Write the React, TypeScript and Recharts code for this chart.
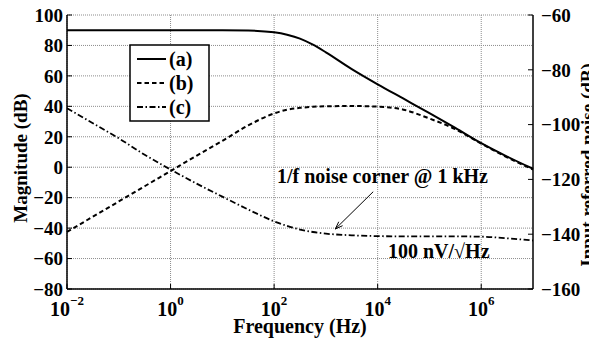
import { LineChart, Line, XAxis, YAxis, ReferenceLine, CartesianGrid, Customized } from "recharts";

const freqHz = [0.01, 0.0316, 0.1, 0.316, 1, 3.16, 10, 31.6, 100, 178, 316, 562, 1000, 3162, 10000, 31623, 100000, 316228, 1000000, 3162278, 10000000];
const gainA = [90, 90, 90, 90, 90, 90, 90, 89.8, 88.6, 87, 84.5, 80.5, 75.5, 64.5, 54.5, 45, 35.5, 25.8, 15.8, 7, -1];
const gainB = [-42.5, -32.5, -22.5, -12.5, -2.5, 7.5, 17.3, 27.5, 35.3, 37.8, 39, 39.7, 40, 40.2, 39.8, 37.8, 32, 25, 15.5, 6.5, -1.5];
const noiseC = [-94, -99.5, -105, -111, -116.4, -121.5, -126.3, -131, -135.3, -137, -138.3, -139.2, -139.8, -140.4, -140.7, -140.8, -140.8, -140.8, -140.9, -141.5, -142.3];

const freqTicks = [0.01, 1, 100, 10000, 1000000];
const magTicks = [-80, -60, -40, -20, 0, 20, 40, 60, 80, 100];
const noiseTicks = [-160, -140, -120, -100, -80, -60];

const FONT = "'Liberation Serif', 'Times New Roman', serif";

const data = freqHz.map((f, i) => ({ f, a: gainA[i], b: gainB[i], c: noiseC[i] }));

const minus = (v: number) => (v < 0 ? "\u2212" + Math.abs(v) : String(v));

function FreqTick(props: any) {
  const { x, y, payload } = props;
  const exp = Math.round(Math.log10(payload.value));
  return (
    <text x={x} y={y + 27} textAnchor="middle" fontFamily={FONT} fontWeight="bold" fontSize={20} fill="#000">
      <tspan>10</tspan>
      <tspan dy={-11} fontSize={13}>{minus(exp)}</tspan>
    </text>
  );
}

const EmptyTick = () => <g />;

function Arrow(props: any) {
  const { x1, y1, x2, y2 } = props;
  const ang = Math.atan2(y2 - y1, x2 - x1);
  const len = 8;
  const w = 0.35;
  const p1 = [x2 - len * Math.cos(ang - w), y2 - len * Math.sin(ang - w)];
  const p2 = [x2 - len * Math.cos(ang + w), y2 - len * Math.sin(ang + w)];
  return (
    <g>
      <line x1={x1} y1={y1} x2={x2} y2={y2} stroke="#000" strokeWidth={1} />
      <polyline points={`${p1[0]},${p1[1]} ${x2},${y2} ${p2[0]},${p2[1]}`} fill="none" stroke="#000" strokeWidth={1} />
    </g>
  );
}

const legendItems = [
  { name: "(a)", dash: undefined },
  { name: "(b)", dash: "4.5 3" },
  { name: "(c)", dash: "6 2.5 1.5 2.5" },
];

function Overlay() {
  const txt = { fontFamily: FONT, fontWeight: "bold" as const, fill: "#000" };
  return (
    <g>
      <text {...txt} fontSize={19} transform="translate(19,150) rotate(-90)" textAnchor="middle">Magnitude (dB)</text>
      <text {...txt} fontSize={19} transform="translate(586,157) rotate(-90)" textAnchor="middle">Input referred noise (dB)</text>
      <text {...txt} fontSize={20} x={292} y={325} textAnchor="middle">Frequency (Hz)</text>
      <text {...txt} fontSize={20} x={269} y={175}>1/f noise corner @ 1 kHz</text>
      <text {...txt} fontSize={20} x={380} y={250}>100 nV/√Hz</text>
      <rect x={122} y={37} width={79} height={76} fill="#fff" stroke="#000" strokeWidth={1.5} />
      {legendItems.map((it, i) => (
        <g key={it.name}>
          <line x1={129} x2={158} y1={51 + i * 24} y2={51 + i * 24} stroke="#000" strokeWidth={2} strokeDasharray={it.dash} />
          <text {...txt} fontSize={20} x={161} y={57.5 + i * 24}>{it.name}</text>
        </g>
      ))}
    </g>
  );
}

export default function App() {
  const tickStyle = { fontFamily: FONT, fontWeight: "bold", fontSize: 19, fill: "#000" };
  const axisLine = { stroke: "#000", strokeWidth: 1.5 };
  return (
    <LineChart width={589} height={334} data={data} margin={{ top: 7, right: 19, bottom: 23, left: 14 }}>
      <CartesianGrid xAxisId="x" yAxisId="left" stroke="#8c8c8c" strokeWidth={1} strokeDasharray="1 1"
        horizontalValues={magTicks} verticalValues={freqTicks} />
      <XAxis xAxisId="x" dataKey="f" type="number" scale="log" domain={[0.01, 10000000]} ticks={freqTicks} interval={0}
        height={30} tickSize={-5} tickMargin={5} tick={<FreqTick />} axisLine={axisLine} tickLine={{ stroke: "#000" }} />
      <XAxis xAxisId="top" dataKey="f" orientation="top" type="number" scale="log" domain={[0.01, 10000000]} ticks={freqTicks} interval={0}
        height={0} tickSize={-5} tick={EmptyTick} axisLine={axisLine} tickLine={{ stroke: "#000" }} />
      <YAxis yAxisId="left" type="number" domain={[-80, 100]} ticks={magTicks} interval={0} width={45} tickSize={-5} tickMargin={9}
        tickFormatter={minus} tick={tickStyle} axisLine={axisLine} tickLine={{ stroke: "#000" }} />
      <YAxis yAxisId="leftMirror" orientation="right" type="number" domain={[-80, 100]} ticks={magTicks} interval={0} width={0} tickSize={-5}
        tick={EmptyTick} axisLine={axisLine} tickLine={{ stroke: "#000" }} />
      <YAxis yAxisId="right" orientation="right" type="number" domain={[-160, -60]} ticks={noiseTicks} interval={0} width={45} tickSize={-5} tickMargin={13}
        tickFormatter={minus} tick={tickStyle} axisLine={axisLine} tickLine={{ stroke: "#000" }} />
      <Line xAxisId="x" yAxisId="left" type="monotone" dataKey="a" stroke="#000" strokeWidth={2} dot={false} isAnimationActive={false} />
      <Line xAxisId="x" yAxisId="left" type="monotone" dataKey="b" stroke="#000" strokeWidth={2} strokeDasharray="4.5 3" dot={false} isAnimationActive={false} />
      <Line xAxisId="x" yAxisId="right" type="monotone" dataKey="c" stroke="#000" strokeWidth={1.8} strokeDasharray="6 2.5 1.5 2.5" dot={false} isAnimationActive={false} />
      <ReferenceLine xAxisId="x" yAxisId="right" segment={[{ x: 8200, y: -124.5 }, { x: 1520, y: -138.1 }]} shape={<Arrow />} ifOverflow="visible" />
      <Customized component={Overlay} />
    </LineChart>
  );
}
